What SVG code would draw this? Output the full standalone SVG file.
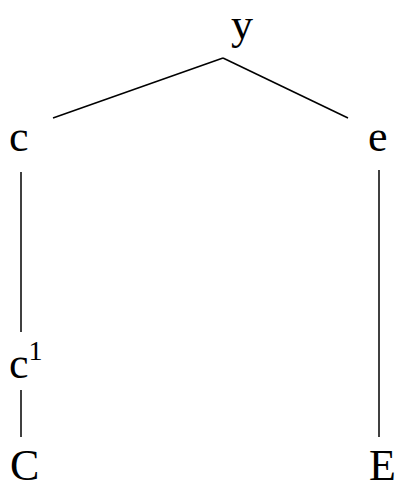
<svg xmlns="http://www.w3.org/2000/svg" width="396" height="490" viewBox="0 0 396 490">
<style>
text{font-family:"Liberation Serif","Times New Roman",serif;font-size:44px;fill:#000}
.sup{font-size:28px}
line{stroke:#000;stroke-width:1.5}
</style>
<rect width="396" height="490" fill="#fff"/>
<g id="connectors">
<line x1="223" y1="58" x2="53" y2="118"/>
<line x1="223" y1="58" x2="348" y2="118"/>
<line x1="21" y1="172" x2="21" y2="332"/>
<line x1="21" y1="390" x2="21" y2="437"/>
<line x1="379" y1="170" x2="379" y2="437"/>
</g>
<g id="n-y"><text x="242" y="39" text-anchor="middle">y</text></g>
<g id="n-c"><text x="9" y="151">c</text></g>
<g id="n-e"><text x="368" y="151">e</text></g>
<g id="n-c1"><text x="9" y="378">c<tspan class="sup" dy="-18">1</tspan></text></g>
<g id="n-C"><text x="10" y="480">C</text></g>
<g id="n-E"><text x="369" y="480">E</text></g>
</svg>
